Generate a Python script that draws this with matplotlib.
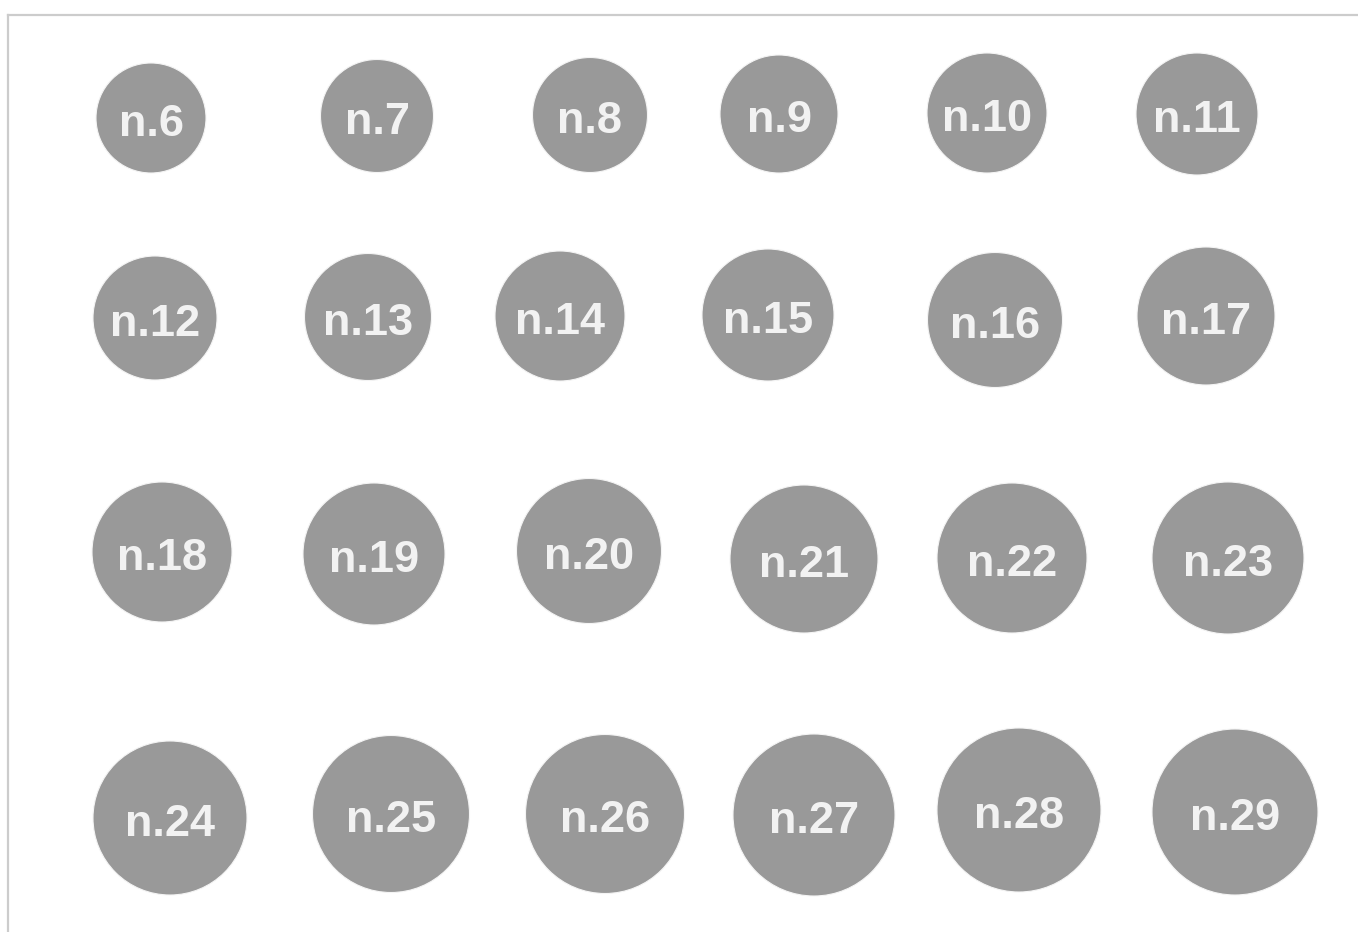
import matplotlib.pyplot as plt
from matplotlib.patches import Circle

# bubble labels, centres (pixel grid of the chart) and radii
labels = ['n.%d' % i for i in range(6, 30)]
cx = [151, 377, 590, 779, 987, 1197,
      155, 368, 560, 768, 995, 1206,
      162, 374, 589, 804, 1012, 1228,
      170, 391, 605, 814, 1019, 1235]
cy = [118, 116, 115, 114, 113, 114,
      318, 317, 316, 315, 320, 316,
      552, 554, 551, 559, 558, 558,
      818, 814, 814, 815, 810, 812]
radius = [55, 56.5, 57.5, 59, 60, 61,
          62, 63.5, 65, 66, 67.5, 69,
          70, 71, 72.5, 74, 75, 76,
          77, 78.5, 79.5, 81, 82, 83]

W, H = 1358, 932
fig = plt.figure(figsize=(W / 100, H / 100), dpi=100)
ax = fig.add_axes([0, 0, 1, 1])
ax.set_xlim(0, W)
ax.set_ylim(H, 0)
ax.set_aspect('equal')
ax.axis('off')

# frame lines top and left
ax.plot([8, W], [15, 15], color='#cccccc', lw=1.6)
ax.plot([8, 8], [15, H], color='#cccccc', lw=1.6)

for lab, x, y, r in zip(labels, cx, cy, radius):
    ax.add_patch(Circle((x, y), r, facecolor='#999999', edgecolor='#f4f4f4', lw=0.8))
    ax.text(x, y + 18, lab, ha='center', va='baseline', color='#f2f2f2',
            fontsize=32.5, fontweight='bold', family='Liberation Sans')

fig.savefig('out.png', dpi=100)
